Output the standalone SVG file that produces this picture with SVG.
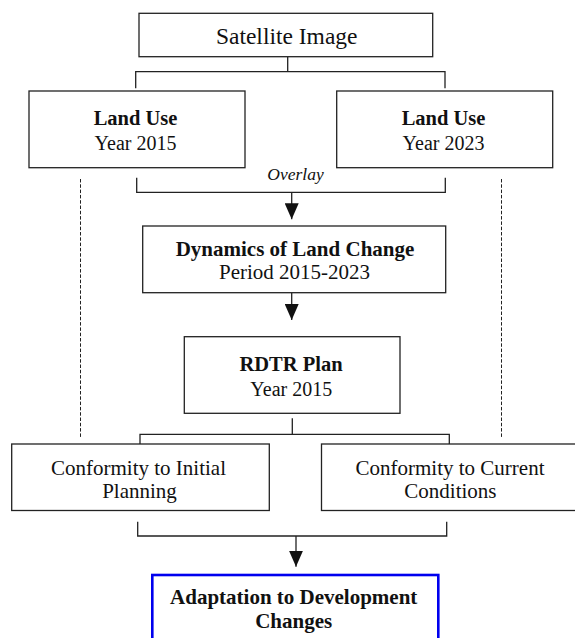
<svg xmlns="http://www.w3.org/2000/svg" width="575" height="638" viewBox="0 0 575 638">
  <style>
    .box { fill: #ffffff; stroke: #222222; stroke-width: 1.3; }
    .blue { fill: #ffffff; stroke: #0000ee; stroke-width: 2.6; }
    .ln { fill: none; stroke: #222222; stroke-width: 1.3; }
    .dash { fill: none; stroke: #222222; stroke-width: 1; stroke-dasharray: 3.5 1.8; }
    .t { font-family: "Liberation Serif", "Times New Roman", serif; fill: #111111; text-anchor: middle; }
    .b { font-weight: bold; }
    .i { font-style: italic; }
  </style>
  <defs>
    <marker id="ah" markerUnits="userSpaceOnUse" markerWidth="16" markerHeight="14" refX="16" refY="7" orient="auto">
      <path d="M0,0 L16,7 L0,14 z" fill="#111111"/>
    </marker>
  </defs>

  <g id="connectors">
    <path class="ln" d="M287.7,56.7 V71.7 M135.7,88.3 V71.7 H445 V88.3"/>
    <path class="ln" d="M136.7,177.7 V192.3 H445.3 V177.7"/>
    <line class="ln" x1="291.7" y1="192.3" x2="291.7" y2="219.3" marker-end="url(#ah)"/>
    <line class="ln" x1="291.7" y1="292.7" x2="291.7" y2="320" marker-end="url(#ah)"/>
    <path class="ln" d="M292.3,418.3 V434.3 M140,449.3 V434.3 H449.3 V449.3"/>
    <path class="ln" d="M137.7,521.7 V536 H446.7 V521.7"/>
    <line class="ln" x1="296" y1="536" x2="296" y2="566.7" marker-end="url(#ah)"/>
    <line class="dash" x1="80.5" y1="179" x2="80.5" y2="437"/>
    <line class="dash" x1="501.5" y1="179" x2="501.5" y2="437"/>
  </g>

  <g id="satellite">
    <rect class="box" x="139" y="13.3" width="293.7" height="43.4"/>
    <text class="t" x="286.7" y="44.3" font-size="23.5">Satellite Image</text>
  </g>

  <g id="landuse2015">
    <rect class="box" x="29" y="91" width="216" height="76.7"/>
    <text class="t b" x="135.5" y="125" font-size="20.5">Land Use</text>
    <text class="t" x="135.5" y="150" font-size="20">Year 2015</text>
  </g>

  <g id="landuse2023">
    <rect class="box" x="336.7" y="91" width="216" height="76.7"/>
    <text class="t b" x="443.5" y="125" font-size="20.5">Land Use</text>
    <text class="t" x="443.5" y="150" font-size="20">Year 2023</text>
  </g>

  <g id="overlay-label">
    <text class="t i" x="295.5" y="180" font-size="17.5">Overlay</text>
  </g>

  <g id="dynamics">
    <rect class="box" x="142.7" y="226" width="303" height="66.7"/>
    <text class="t b" x="295" y="256" font-size="21">Dynamics of Land Change</text>
    <text class="t" x="294.5" y="279.3" font-size="21">Period 2015-2023</text>
  </g>

  <g id="rdtr">
    <rect class="box" x="184.3" y="336.7" width="215.7" height="76.6"/>
    <text class="t b" x="291" y="371" font-size="20.5">RDTR Plan</text>
    <text class="t" x="291.3" y="395.7" font-size="20">Year 2015</text>
  </g>

  <g id="conformity-initial">
    <rect class="box" x="11.7" y="444" width="257.6" height="66.5"/>
    <text class="t" x="138.5" y="475" font-size="21">Conformity to Initial</text>
    <text class="t" x="139.5" y="498.3" font-size="21">Planning</text>
  </g>

  <g id="conformity-current">
    <rect class="box" x="321.5" y="444" width="260" height="66.5"/>
    <text class="t" x="450" y="475" font-size="21">Conformity to Current</text>
    <text class="t" x="450.4" y="498.3" font-size="21">Conditions</text>
  </g>

  <g id="adaptation">
    <rect class="blue" x="152.3" y="575" width="286" height="70"/>
    <text class="t b" x="293.7" y="604.3" font-size="21">Adaptation to Development</text>
    <text class="t b" x="293.7" y="628.3" font-size="21">Changes</text>
  </g>
</svg>
